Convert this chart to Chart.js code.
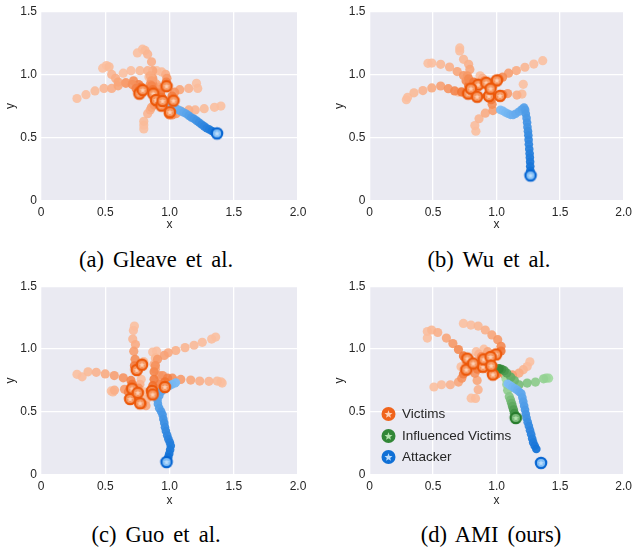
<!DOCTYPE html>
<html><head><meta charset="utf-8">
<script src="https://cdn.jsdelivr.net/npm/chart.js@4.4.0/dist/chart.umd.min.js"></script>
<style>
html,body{margin:0;padding:0;background:#fff;width:636px;height:550px;overflow:hidden;}
canvas{position:absolute;}
.cap{position:absolute;font-family:"Liberation Serif","Times New Roman",serif;font-size:22.5px;line-height:24px;word-spacing:3.5px;color:#000;white-space:nowrap;transform:translateX(-50%);}
</style></head><body>
<canvas id="ca" width="318" height="232" style="left:0;top:0"></canvas>
<canvas id="cb" width="318" height="232" style="left:318px;top:0"></canvas>
<canvas id="cc" width="318" height="233" style="left:0;top:275px"></canvas>
<canvas id="cd" width="318" height="233" style="left:318px;top:275px"></canvas>
<div class="cap" style="left:156px;top:248px">(a) Gleave et al.</div>
<div class="cap" style="left:489px;top:248px">(b) Wu et al.</div>
<div class="cap" style="left:156px;top:523px">(c) Guo et al.</div>
<div class="cap" style="left:491px;top:523px">(d) AMI (ours)</div>
<script>
// ---------- tick labels / axes ----------
const X_TICKS = [0, 0.5, 1.0, 1.5, 2.0];
const Y_TICKS = [0, 0.5, 1.0, 1.5];
const LEGEND_LABELS = ['Victims', 'Influenced Victims', 'Attacker'];

// ---------- (a) Gleave et al. ----------
const A_V1 = [[0.28,0.81],[0.35,0.84],[0.42,0.87],[0.49,0.89],[0.55,0.89],[0.60,0.91],[0.66,0.93],[0.71,0.92],[0.74,0.89],[0.76,0.87],[0.766,0.849]];
const A_V2 = [[0.48,1.05],[0.51,1.07],[0.53,1.06],[0.55,1.00],[0.58,0.97],[0.60,0.94],[0.66,0.935],[0.72,0.95],[0.76,0.92],[0.78,0.90],[0.791,0.876]];
const A_V3 = [[0.64,1.01],[0.70,1.03],[0.77,1.03],[0.83,1.03],[0.85,0.99],[0.86,0.95],[0.85,0.92],[0.86,0.91],[0.87,0.88],[0.874,0.849]];
const A_V4 = [[0.75,1.17],[0.79,1.20],[0.81,1.19],[0.83,1.16],[0.86,1.10],[0.87,1.03],[0.87,0.97],[0.87,0.92],[0.88,0.87],[0.89,0.83],[0.895,0.798]];
const A_V5 = [[0.80,0.57],[0.80,0.60],[0.80,0.63],[0.83,0.69],[0.85,0.72],[0.86,0.74],[0.88,0.76],[0.90,0.77],[0.91,0.77],[0.93,0.76],[0.938,0.754]];
const A_V6 = [[1.40,0.75],[1.35,0.74],[1.27,0.73],[1.20,0.72],[1.15,0.72],[1.09,0.71],[1.05,0.69],[1.02,0.68],[1.00,0.68],[0.99,0.69],[1.003,0.702]];
const A_V7 = [[1.21,0.93],[1.22,0.89],[1.15,0.89],[1.08,0.88],[1.04,0.86],[1.02,0.83],[1.031,0.793]];
const A_V8 = [[0.90,1.03],[0.94,1.02],[0.97,1.00],[0.98,0.97],[0.975,0.94],[0.977,0.907]];
const A_V9 = [[0.84,0.98],[0.86,0.96],[0.87,0.95],[0.89,0.93],[0.90,0.92],[0.91,0.90],[0.92,0.88],[0.93,0.86],[0.93,0.85],[0.94,0.82],[0.946,0.790]];
const A_ATT = [[1.01,0.75],[1.03,0.74],[1.05,0.73],[1.07,0.72],[1.09,0.71],[1.11,0.70],[1.13,0.69],[1.15,0.675],[1.17,0.66],[1.19,0.65],[1.21,0.635],[1.23,0.62],[1.25,0.605],[1.27,0.59],[1.29,0.575],[1.31,0.565],[1.33,0.553],[1.35,0.543],[1.37,0.534]];

// ---------- (b) Wu et al. ----------
const B_V1 = [[0.29,0.80],[0.30,0.82],[0.35,0.855],[0.42,0.873],[0.49,0.894],[0.56,0.909],[0.62,0.888],[0.67,0.870],[0.725,0.862],[0.777,0.849]];
const B_V2 = [[0.46,1.088],[0.49,1.09],[0.56,1.08],[0.63,1.059],[0.69,1.023],[0.74,0.992],[0.78,0.966],[0.82,0.94],[0.855,0.919]];
const B_V3 = [[0.71,1.21],[0.71,1.186],[0.74,1.12],[0.78,1.08],[0.79,1.04],[0.77,0.99],[0.76,0.95],[0.78,0.91],[0.798,0.888]];
const B_V4 = [[1.363,1.109],[1.293,1.082],[1.223,1.057],[1.156,1.031],[1.094,1.010],[1.048,0.979],[1.02,0.965],[1.002,0.953]];
const B_V5 = [[1.21,0.922],[1.20,0.845],[1.16,0.837],[1.087,0.849],[1.05,0.84],[1.027,0.831]];
const B_V6 = [[0.837,0.552],[0.829,0.596],[0.862,0.650],[0.911,0.694],[0.971,0.715],[0.965,0.764],[0.957,0.80],[0.940,0.829]];
const B_V7 = [[0.87,0.99],[0.89,0.97],[0.905,0.95],[0.919,0.935]];
const B_V8 = [[0.99,0.93],[0.97,0.91],[0.953,0.888]];
const B_V9 = [[0.70,0.86],[0.75,0.85],[0.80,0.84],[0.83,0.83],[0.847,0.824]];
const B_ATT = [[1.03,0.72],[1.05,0.712],[1.07,0.70],[1.09,0.69],[1.11,0.681],[1.13,0.680],[1.15,0.69],[1.177,0.707],[1.20,0.725],[1.216,0.738],[1.225,0.72],[1.23,0.69],[1.236,0.655],[1.24,0.62],[1.243,0.585],[1.247,0.552],[1.25,0.52],[1.252,0.485],[1.254,0.448],[1.257,0.41],[1.26,0.375],[1.262,0.344],[1.264,0.31],[1.265,0.275],[1.266,0.24],[1.267,0.202]];

// ---------- (c) Guo et al. ----------
const C_V1 = [[0.28,0.80],[0.32,0.78],[0.366,0.82],[0.43,0.816],[0.50,0.803],[0.57,0.79],[0.64,0.772],[0.70,0.751],[0.71,0.72],[0.709,0.686]];
const C_V2 = [[0.727,1.183],[0.719,1.148],[0.714,1.08],[0.735,1.036],[0.722,0.984],[0.732,0.919],[0.727,0.868],[0.745,0.834]];
const C_V3 = [[1.359,1.096],[1.328,1.08],[1.255,1.054],[1.191,1.031],[1.121,1.012],[1.049,0.989],[0.99,0.971],[0.959,0.95],[0.907,0.919],[0.89,0.87],[0.88,0.82],[0.88,0.76],[0.87,0.71],[0.864,0.668]];
const C_V4 = [[1.41,0.73],[1.40,0.74],[1.371,0.746],[1.307,0.744],[1.235,0.746],[1.165,0.754],[1.088,0.759],[1.023,0.769],[0.985,0.77],[0.965,0.74],[0.964,0.699]];
const C_V5 = [[0.869,0.977],[0.90,0.984],[0.89,0.93],[0.88,0.88],[0.89,0.84],[0.92,0.79],[0.946,0.79],[0.92,0.72],[0.88,0.67],[0.869,0.640]];
const C_V6 = [[0.547,0.668],[0.56,0.66],[0.572,0.674],[0.65,0.681],[0.68,0.66],[0.694,0.604]];
const C_V7 = [[0.80,0.66],[0.82,0.60],[0.817,0.55],[0.79,0.56],[0.771,0.570]];
const C_V8 = [[0.80,0.90],[0.79,0.89],[0.786,0.876]];
const C_V9 = [[0.78,0.76],[0.77,0.72],[0.76,0.69],[0.753,0.653]];
const C_ATT = [[1.05,0.735],[1.044,0.73],[1.02,0.72],[0.998,0.707],[0.97,0.69],[0.95,0.675],[0.933,0.66],[0.92,0.63],[0.907,0.596],[0.91,0.565],[0.92,0.531],[0.935,0.505],[0.946,0.479],[0.952,0.445],[0.959,0.414],[0.965,0.38],[0.972,0.35],[0.982,0.315],[0.992,0.285],[1.003,0.258],[1.01,0.233],[1.005,0.20],[0.998,0.169],[0.99,0.14],[0.977,0.103]];

// ---------- (d) AMI (ours) ----------
const D_V1 = [[0.455,1.088],[0.455,1.14],[0.489,1.152],[0.537,1.132],[0.605,1.088],[0.656,1.044],[0.70,0.997],[0.739,0.946],[0.770,0.925]];
const D_V2 = [[0.739,1.204],[0.798,1.191],[0.855,1.183],[0.911,1.152],[0.963,1.113],[1.009,1.075],[1.035,1.023],[1.035,0.985],[0.996,0.958]];
const D_V3 = [[1.262,0.899],[1.241,0.862],[1.21,0.837],[1.177,0.81],[1.125,0.795],[1.06,0.80],[1.00,0.80],[0.971,0.798]];
const D_V4 = [[0.507,0.699],[0.566,0.717],[0.636,0.717],[0.70,0.738],[0.726,0.769],[0.739,0.803],[0.762,0.837]];
const D_V5 = [[0.80,0.61],[0.834,0.608],[0.855,0.678],[0.847,0.751],[0.829,0.808],[0.85,0.84],[0.893,0.86]];
const D_V6 = [[0.72,0.86],[0.76,0.87],[0.79,0.88],[0.816,0.886]];
const D_V7 = [[0.84,0.98],[0.86,0.96],[0.88,0.94],[0.899,0.919]];
const D_V8 = [[0.90,1.00],[0.93,0.98],[0.953,0.938]];
const D_V9 = [[0.93,0.84],[0.95,0.85],[0.958,0.868]];
const D_G1 = [[1.409,0.769],[1.39,0.77],[1.37,0.764],[1.306,0.738],[1.241,0.73],[1.177,0.717],[1.14,0.75],[1.112,0.777],[1.08,0.81],[1.061,0.829],[1.04,0.84],[1.02,0.845]];
const D_G2 = [[1.074,0.764],[1.08,0.72],[1.087,0.674],[1.10,0.622],[1.11,0.595],[1.118,0.57],[1.125,0.545],[1.133,0.518],[1.14,0.49],[1.151,0.453]];
const D_ATT = [[1.087,0.725],[1.105,0.712],[1.125,0.699],[1.145,0.686],[1.164,0.674],[1.18,0.66],[1.195,0.647],[1.203,0.615],[1.21,0.583],[1.217,0.55],[1.224,0.518],[1.23,0.485],[1.236,0.453],[1.245,0.42],[1.254,0.389],[1.263,0.356],[1.272,0.324],[1.28,0.29],[1.288,0.259],[1.30,0.232],[1.313,0.207],[1.35,0.096]];

// ---------- styles ----------
const ORANGE = {light:[251,192,160], dark:[240,100,28], ring:[236,88,10], fill:[246,150,95], star:[253,210,185]};
const BLUE   = {light:[128,190,245], dark:[16,112,214], ring:[8,102,210], fill:[130,190,245], star:[190,222,252]};
const GREEN  = {light:[160,218,158], dark:[50,135,55], ring:[40,125,45], fill:[120,185,120], star:[180,228,175]};
const rgb = (c,a=1)=>`rgba(${c[0]},${c[1]},${c[2]},${a})`;
function mix(a,b,t,al){return rgb([0,1,2].map(i=>Math.round(a[i]+(b[i]-a[i])*t)),al);}
function star(ctx,cx,cy,R,r){ctx.beginPath();for(let i=0;i<10;i++){const ang=-Math.PI/2+i*Math.PI/5;const rr=i%2===0?R:r;ctx.lineTo(cx+rr*Math.cos(ang),cy+rr*Math.sin(ang));}ctx.closePath();ctx.fill();}
function endMarker(p){const c=document.createElement('canvas');c.width=c.height=16;const x=c.getContext('2d');
  x.beginPath();x.arc(8,8,5.2,0,2*Math.PI);x.fillStyle=rgb(p.fill);x.fill();x.lineWidth=2.2;x.strokeStyle=rgb(p.ring);x.stroke();
  x.fillStyle=rgb(p.star);star(x,8,8.3,3.1,1.3);return c;}
const END = {o:endMarker(ORANGE), b:endMarker(BLUE), g:endMarker(GREEN)};

function traj(pts,pal,radius,gamma,order,alpha){
  const n=pts.length;
  return {data:pts.map(p=>({x:p[0],y:p[1]})),pointRadius:radius,pointHoverRadius:radius,
    pointBackgroundColor:pts.map((_,i)=>mix(pal.light,pal.dark,Math.pow(n>1?i/(n-1):1,gamma),alpha)),
    pointBorderWidth:0,borderWidth:0,order};
}
const bgPlugin={id:'bg',beforeDraw(ch){const a=ch.chartArea,c=ch.ctx;c.save();c.fillStyle='#eaeaf2';c.fillRect(a.left,a.top,a.right-a.left,a.bottom-a.top);c.restore();}};
const legendPlugin={id:'amiLegend',afterDraw(ch){const c=ch.ctx;const pals=[ORANGE,GREEN,BLUE];const ys=[139,161,182];
  c.save();pals.forEach((p,i)=>{c.beginPath();c.arc(70.5,ys[i],7,0,2*Math.PI);c.fillStyle=rgb(p.dark);c.fill();c.fillStyle=rgb(p.star);star(c,70.5,ys[i]+0.4,4.2,1.8);
    c.fillStyle='#262626';c.font='13.5px "Liberation Sans", Arial, sans-serif';c.textBaseline='middle';c.textAlign='left';c.fillText(LEGEND_LABELS[i],84,ys[i]);});c.restore();}};

function makeChart(id,victims,greens,att,noEnd,lay,extra){
  const ds=[];const ends=[];const styles=[];
  victims.forEach(v=>{ds.push(traj(v,ORANGE,4.6,1.8,3,0.9));ends.push(v[v.length-1]);styles.push(END.o);});
  greens.forEach((g,gi)=>{ds.push(traj(g,GREEN,4.6,1.3,2,0.92));if(!noEnd.includes(gi)){ends.push(g[g.length-1]);styles.push(END.g);}});
  ds.push(traj(att,BLUE,4.3,1,1,0.95));ends.push(att[att.length-1]);styles.push(END.b);
  ds.push({data:ends.map(p=>({x:p[0],y:p[1]})),pointStyle:styles,pointRadius:6,order:0});
  const font={family:'"Liberation Sans", Arial, sans-serif',size:12};
  new Chart(document.getElementById(id),{type:'scatter',data:{datasets:ds},
    options:{responsive:false,animation:false,events:[],
      layout:{padding:lay.pad},
      plugins:{legend:{display:false},tooltip:{enabled:false}},
      scales:{
        x:{type:'linear',min:X_TICKS[0],max:X_TICKS[X_TICKS.length-1],
          afterBuildTicks:s=>{s.ticks=X_TICKS.map(v=>({value:v}));},
          ticks:{font,color:'#262626',padding:4,maxRotation:0,callback:v=>v===0?'0':v.toFixed(1)},
          grid:{color:'#ffffff',lineWidth:1.3,drawTicks:false},border:{display:false},
          title:{display:true,text:'x',font,color:'#262626',padding:{top:0,bottom:0}},
          afterFit:s=>{s.height=lay.xH;}},
        y:{type:'linear',min:Y_TICKS[0],max:Y_TICKS[Y_TICKS.length-1],
          afterBuildTicks:s=>{s.ticks=Y_TICKS.map(v=>({value:v}));},
          ticks:{font,color:'#262626',padding:4,callback:v=>v===0?'0':v.toFixed(1)},
          grid:{color:'#ffffff',lineWidth:1.3,drawTicks:false},border:{display:false},
          title:{display:true,text:'y',font,color:'#262626',padding:{top:3,bottom:0}},
          afterFit:s=>{s.width=lay.yW;}}
      }},
    plugins:[bgPlugin].concat(extra||[])});
}
makeChart('ca',[A_V1,A_V2,A_V3,A_V4,A_V5,A_V6,A_V7,A_V8,A_V9],[],A_ATT,[],{pad:{left:0,right:20,top:8,bottom:0},yW:41,xH:31});
makeChart('cb',[B_V1,B_V2,B_V3,B_V4,B_V5,B_V6,B_V7,B_V8,B_V9],[],B_ATT,[],{pad:{left:11,right:8,top:8,bottom:0},yW:40.5,xH:31});
makeChart('cc',[C_V1,C_V2,C_V3,C_V4,C_V5,C_V6,C_V7,C_V8,C_V9],[],C_ATT,[],{pad:{left:0,right:20,top:7,bottom:0},yW:41,xH:33});
makeChart('cd',[D_V1,D_V2,D_V3,D_V4,D_V5,D_V6,D_V7,D_V8,D_V9],[D_G1,D_G2],D_ATT,[0],{pad:{left:11,right:8,top:7,bottom:0},yW:40.5,xH:33},[legendPlugin]);
</script>
</body></html>
